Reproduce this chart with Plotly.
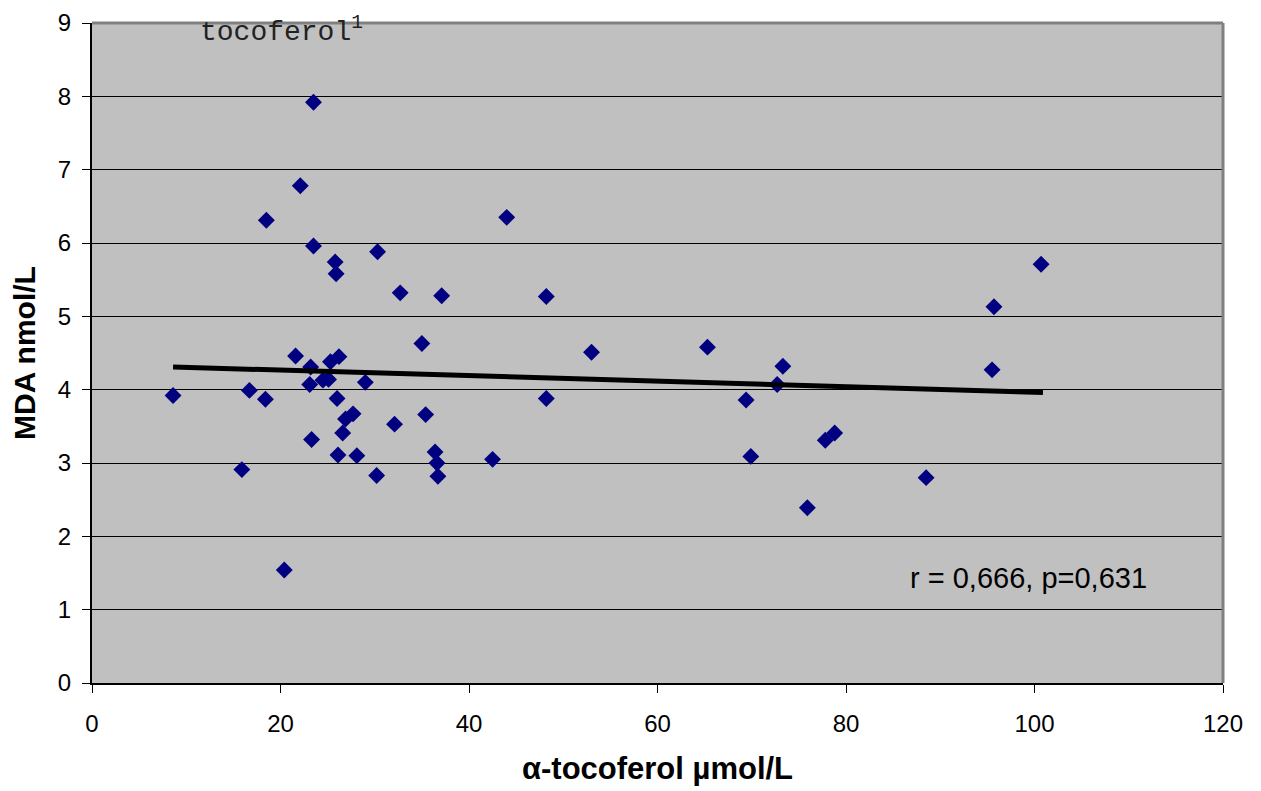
import plotly.graph_objects as go

tocoferol = [8.6, 15.9, 16.7, 18.4, 18.5, 20.4, 21.6, 22.1, 23.2, 23.1, 23.3, 23.5, 23.5,
             24.5, 25.1, 25.3, 26.2, 25.8, 25.9, 26.0, 26.1, 26.6, 26.9, 27.7, 28.1, 29.0,
             30.2, 30.3, 32.1, 32.7, 35.0, 35.4, 36.4, 36.6, 36.7, 37.1, 42.5, 44.0, 48.2,
             48.2, 53.0, 65.3, 69.4, 69.9, 72.7, 73.3, 75.9, 77.8, 78.8, 88.5, 95.5, 95.7,
             100.7]
mda = [3.92, 2.91, 3.99, 3.87, 6.31, 1.54, 4.46, 6.78, 4.31, 4.07, 3.32, 7.92, 5.96,
       4.13, 4.14, 4.38, 4.45, 5.74, 5.58, 3.88, 3.11, 3.41, 3.60, 3.67, 3.10, 4.10,
       2.83, 5.88, 3.53, 5.32, 4.63, 3.66, 3.15, 3.00, 2.82, 5.28, 3.05, 6.35, 5.27,
       3.88, 4.51, 4.58, 3.86, 3.09, 4.07, 4.32, 2.39, 3.31, 3.41, 2.80, 4.27, 5.13,
       5.71]

trend_x = [8.6, 100.9]
trend_y = [4.31, 3.96]

x_ticks = [0, 20, 40, 60, 80, 100, 120]
y_ticks = [0, 1, 2, 3, 4, 5, 6, 7, 8, 9]

fig = go.Figure()
fig.add_trace(go.Scatter(
    x=tocoferol, y=mda, mode="markers",
    marker=dict(symbol="diamond", size=13, color="#000080",
                line=dict(width=0)),
    showlegend=False, cliponaxis=False))
fig.add_trace(go.Scatter(
    x=trend_x, y=trend_y, mode="lines",
    line=dict(color="black", width=5),
    showlegend=False))

font_family = "Liberation Sans, Arial, sans-serif"

fig.update_layout(
    width=1253, height=783,
    margin=dict(l=84, r=38, t=15, b=108),
    paper_bgcolor="white",
    plot_bgcolor="#C0C0C0",
    font=dict(family=font_family, color="black"),
    xaxis=dict(
        range=[0, 120], tickvals=x_ticks, ticktext=[str(v) for v in x_ticks],
        showgrid=False, zeroline=False, automargin=False,
        showline=True, linecolor="black", linewidth=2,
        ticks="outside", ticklen=8, tickwidth=1, tickcolor="black",
        tickfont=dict(size=24, family=font_family),
        ticklabelstandoff=10,
        title=dict(text="<b>α-tocoferol µmol/L</b>",
                   font=dict(size=31, family=font_family), standoff=22),
    ),
    yaxis=dict(
        range=[0, 9], tickvals=y_ticks, ticktext=[str(v) for v in y_ticks],
        showgrid=True, gridcolor="black", gridwidth=1, zeroline=False,
        automargin=False,
        showline=True, linecolor="black", linewidth=2,
        ticks="outside", ticklen=8, tickwidth=1, tickcolor="black",
        tickfont=dict(size=24, family=font_family),
        ticklabelstandoff=6,
        title=dict(text="<b>MDA nmol/L</b>",
                   font=dict(size=30, family=font_family), standoff=14),
    ),
    shapes=[
        dict(type="line", xref="paper", yref="paper", x0=0, x1=1, y0=1, y1=1,
             line=dict(color="#808080", width=3)),
        dict(type="line", xref="paper", yref="paper", x0=1, x1=1, y0=0, y1=1,
             line=dict(color="#808080", width=3)),
    ],
    annotations=[
        dict(x=11.2, y=8.9, xref="x", yref="y", xanchor="left", yanchor="middle",
             text="tocoferol<sup>1</sup>", showarrow=False,
             font=dict(family="Liberation Mono, Courier New, monospace",
                       size=28, color="#222222")),
        dict(x=86.6, y=1.43, xref="x", yref="y", xanchor="left", yanchor="middle",
             text="r = 0,666, p=0,631", showarrow=False,
             font=dict(family=font_family, size=29, color="black")),
    ],
)

fig.write_html("out.html")
